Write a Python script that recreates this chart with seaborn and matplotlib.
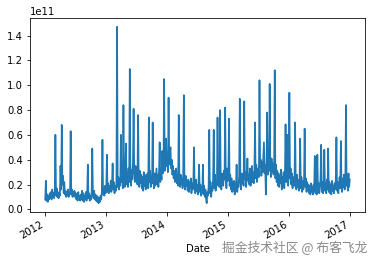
import numpy as np
import pandas as pd
import matplotlib
matplotlib.use("Agg")
import matplotlib.pyplot as plt
import matplotlib.dates as mdates
import seaborn as sns

# Values in units of 1e11, 8 readings per month (Jan..Dec)
v2012 = [0.08, 0.23, 0.07, 0.12, 0.06, 0.11, 0.08, 0.13,
         0.09, 0.14, 0.08, 0.16, 0.10, 0.13, 0.09, 0.15,
         0.60, 0.11, 0.17, 0.10, 0.14, 0.09, 0.13, 0.11,
         0.35, 0.16, 0.68, 0.20, 0.27, 0.13, 0.22, 0.12,
         0.15, 0.10, 0.14, 0.11, 0.16, 0.10, 0.13, 0.12,
         0.63, 0.12, 0.16, 0.10, 0.14, 0.11, 0.15, 0.10,
         0.13, 0.08, 0.12, 0.07, 0.14, 0.09, 0.11, 0.07,
         0.12, 0.08, 0.15, 0.07, 0.13, 0.06, 0.11, 0.08,
         0.14, 0.07, 0.12, 0.36, 0.09, 0.13, 0.07, 0.11,
         0.08, 0.14, 0.49, 0.12, 0.09, 0.15, 0.08, 0.12,
         0.07, 0.11, 0.06, 0.10, 0.05, 0.09, 0.06, 0.11,
         0.08, 0.14, 0.56, 0.12, 0.17, 0.11, 0.19, 0.13]
v2013 = [0.16, 0.44, 0.14, 0.21, 0.13, 0.19, 0.15, 0.23,
         0.14, 0.20, 0.37, 0.16, 0.22, 0.13, 0.19, 0.15,
         0.21, 1.47, 0.18, 0.26, 0.16, 0.24, 0.19, 0.60,
         0.22, 0.30, 0.17, 0.84, 0.25, 0.18, 0.28, 0.53,
         0.20, 0.29, 0.18, 0.33, 0.22, 1.13, 0.27, 0.19,
         0.32, 0.24, 0.38, 0.81, 0.30, 0.22, 0.35, 0.26,
         0.29, 0.20, 0.76, 0.27, 0.18, 0.31, 0.21, 0.28,
         0.17, 0.26, 0.15, 0.30, 0.19, 0.25, 0.16, 0.28,
         0.20, 0.29, 0.17, 0.74, 0.22, 0.31, 0.18, 0.27,
         0.21, 0.70, 0.24, 0.17, 0.29, 0.19, 0.26, 0.33,
         0.20, 0.28, 0.18, 0.31, 0.54, 0.22, 0.30, 0.24,
         0.47, 0.29, 0.36, 1.05, 0.31, 0.42, 0.57, 0.35]
v2014 = [0.38, 0.30, 0.90, 0.36, 0.44, 0.50, 0.33, 0.40,
         0.28, 0.35, 0.25, 0.31, 0.22, 0.29, 0.33, 0.21,
         0.27, 0.19, 0.76, 0.24, 0.18, 0.28, 0.20, 0.25,
         0.17, 0.26, 0.92, 0.21, 0.16, 0.27, 0.19, 0.23,
         0.15, 0.24, 0.14, 0.22, 0.17, 0.25, 0.13, 0.21,
         0.16, 0.23, 0.50, 0.18, 0.13, 0.24, 0.15, 0.20,
         0.12, 0.21, 0.36, 0.14, 0.20, 0.11, 0.18, 0.13,
         0.36, 0.12, 0.19, 0.10, 0.16, 0.08, 0.05, 0.14,
         0.11, 0.19, 0.64, 0.13, 0.22, 0.10, 0.18, 0.15,
         0.24, 0.64, 0.17, 0.28, 0.15, 0.22, 0.19, 0.74,
         0.21, 0.30, 0.18, 0.80, 0.26, 0.16, 0.29, 0.22,
         0.19, 0.31, 0.24, 0.82, 0.27, 0.17, 0.33, 0.23]
v2015 = [0.26, 0.73, 0.19, 0.28, 0.16, 0.25, 0.14, 0.22,
         0.15, 0.23, 0.12, 0.21, 0.17, 0.36, 0.14, 0.20,
         0.18, 0.27, 0.89, 0.22, 0.16, 0.29, 0.21, 0.26,
         0.19, 0.87, 0.24, 0.30, 0.18, 0.27, 0.41, 0.23,
         0.28, 0.20, 0.33, 0.19, 0.26, 0.35, 0.22, 0.30,
         0.21, 0.31, 0.70, 0.25, 0.36, 0.22, 0.29, 0.33,
         0.26, 1.04, 0.34, 0.40, 0.27, 0.38, 0.30, 0.42,
         0.54, 0.29, 0.36, 0.12, 0.33, 0.78, 0.28, 0.39,
         0.31, 1.01, 0.35, 0.26, 0.41, 0.30, 0.37, 0.28,
         0.33, 1.12, 0.25, 0.36, 0.22, 0.31, 0.19, 0.29,
         0.18, 0.27, 0.21, 0.32, 0.16, 0.26, 0.20, 0.30,
         0.17, 0.28, 0.685, 0.22, 0.31, 0.60, 0.19, 0.27]
v2016 = [0.94, 0.25, 0.33, 0.20, 0.29, 0.17, 0.26, 0.21,
         0.19, 0.70, 0.23, 0.16, 0.28, 0.18, 0.24, 0.15,
         0.22, 0.57, 0.17, 0.26, 0.14, 0.23, 0.16, 0.21,
         0.65, 0.18, 0.25, 0.14, 0.22, 0.16, 0.20, 0.13,
         0.19, 0.12, 0.21, 0.14, 0.18, 0.12, 0.20, 0.15,
         0.43, 0.13, 0.19, 0.12, 0.44, 0.16, 0.21, 0.13,
         0.18, 0.25, 0.52, 0.14, 0.22, 0.13, 0.19, 0.48,
         0.15, 0.21, 0.13, 0.24, 0.16, 0.49, 0.14, 0.22,
         0.13, 0.20, 0.12, 0.23, 0.15, 0.19, 0.13, 0.21,
         0.16, 0.24, 0.58, 0.15, 0.22, 0.13, 0.20, 0.26,
         0.17, 0.55, 0.21, 0.14, 0.25, 0.18, 0.28, 0.16,
         0.22, 0.84, 0.19, 0.27, 0.15, 0.29, 0.18, 0.24]

start_date = "2012-01-04"
end_date = "2016-12-30"
x_label = "Date"
watermark = "掘金技术社区 @ 布客飞龙"

values = np.array(v2012 + v2013 + v2014 + v2015 + v2016) * 1e11
dates = pd.date_range(start_date, end_date, periods=len(values))
df = pd.DataFrame({"Date": dates, "Value": values})

W, H, DPI = 375, 263, 72
fig = plt.figure(figsize=(W / DPI, H / DPI), dpi=DPI)
ax = fig.add_axes([30 / W, (H - 212) / H, 335 / W, 194 / H])
sns.lineplot(data=df, x="Date", y="Value", ax=ax, color="#1f77b4", linewidth=1.7)
ax.set_xlabel(x_label)
ax.set_ylabel("")
ax.xaxis.set_major_locator(mdates.YearLocator())
ax.xaxis.set_major_formatter(mdates.DateFormatter("%Y"))
for lbl in ax.get_xticklabels():
    lbl.set_rotation(30)
    lbl.set_ha("right")

fig.text(367 / W, 1 - 248 / H, watermark, ha="right", va="center",
         fontsize=12.8, color="#8a8a8a",
         family=["Noto Sans CJK SC", "DejaVu Sans"])

fig.savefig("out.png", dpi=DPI)
